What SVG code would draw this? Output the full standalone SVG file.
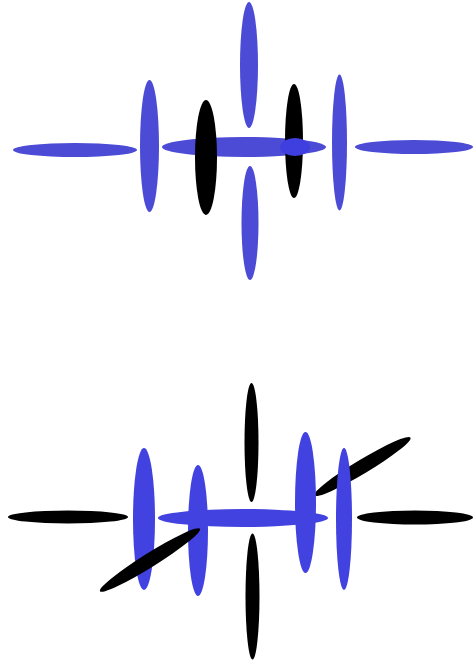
<svg xmlns="http://www.w3.org/2000/svg" width="474" height="662" viewBox="0 0 474 662">
<style>
.b1{fill:#4b4bd6}
.b2{fill:#4242e0}
.k{fill:#000}
</style>
<rect width="474" height="662" fill="#fff"/>
<g id="top">
<ellipse class="b1" cx="75" cy="150" rx="62" ry="7"/>
<ellipse class="b1" cx="149.5" cy="146" rx="9.5" ry="66"/>
<ellipse class="b1" cx="244" cy="147" rx="82" ry="10"/>
<ellipse class="k" cx="206" cy="157.5" rx="11" ry="57.5"/>
<ellipse class="b1" cx="249" cy="65" rx="9" ry="63"/>
<ellipse class="b1" cx="250" cy="223" rx="8.5" ry="57"/>
<ellipse class="k" cx="294" cy="141" rx="9" ry="57"/>
<ellipse fill="#3f3fe0" cx="295" cy="147" rx="15" ry="9"/>
<ellipse class="b1" cx="339.5" cy="142.5" rx="7.5" ry="68"/>
<ellipse class="b1" cx="414" cy="147" rx="59" ry="7"/>
</g>
<g id="bottom">
<ellipse class="k" cx="68" cy="517" rx="60" ry="6.5"/>
<ellipse class="k" cx="362.5" cy="466.5" rx="56" ry="7" transform="rotate(-31 362.5 466.5)"/>
<ellipse class="b2" cx="243" cy="518" rx="85" ry="9"/>
<ellipse class="b2" cx="144" cy="519" rx="11" ry="71"/>
<ellipse class="b2" cx="198" cy="530.5" rx="10" ry="65.5"/>
<ellipse class="k" cx="150" cy="560" rx="59" ry="7" transform="rotate(-32 150 560)"/>
<ellipse class="k" cx="251.5" cy="442.5" rx="7" ry="59.5"/>
<ellipse class="k" cx="252.5" cy="596.5" rx="7" ry="63"/>
<ellipse class="b2" cx="305.5" cy="502.5" rx="10.5" ry="70.5"/>
<ellipse class="b2" cx="344" cy="519" rx="8" ry="71"/>
<ellipse class="k" cx="415" cy="517.5" rx="58" ry="7"/>
</g>
</svg>
